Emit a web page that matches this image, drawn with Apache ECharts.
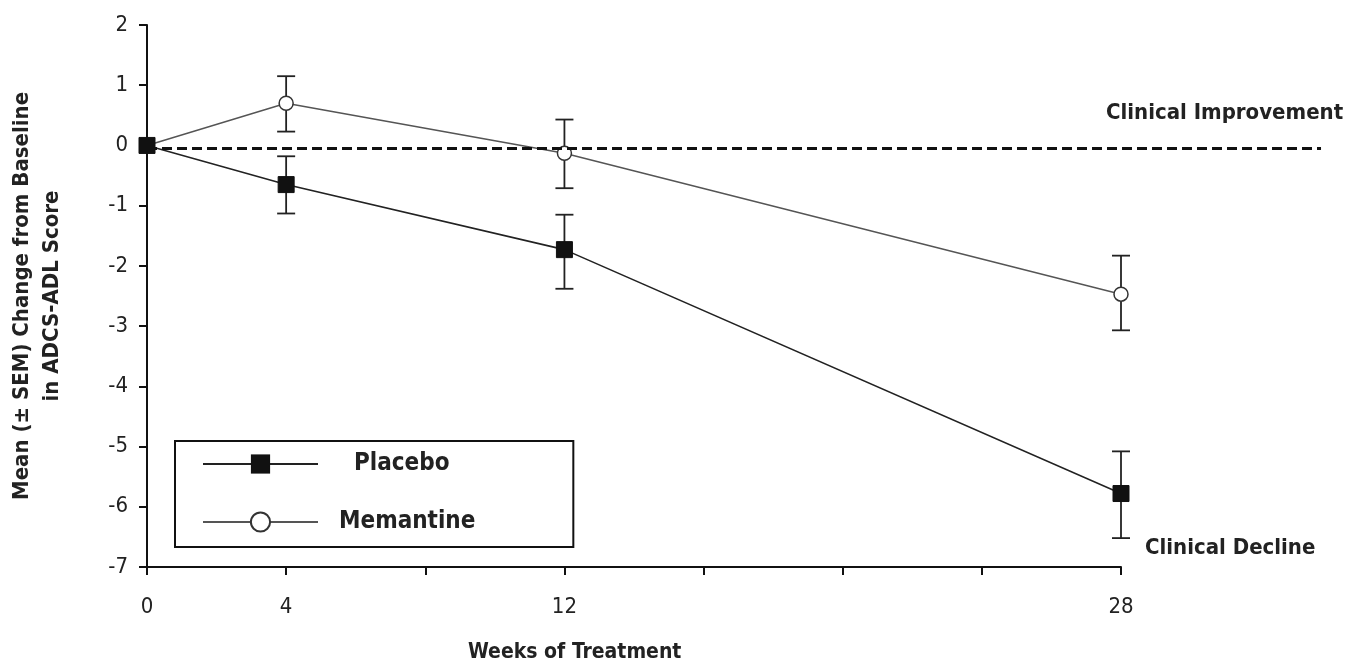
<!DOCTYPE html>
<html>
<head>
<meta charset="utf-8">
<script src="https://cdn.jsdelivr.net/npm/echarts@6/dist/echarts.min.js"></script>
<style>
html,body{margin:0;padding:0;background:#fff;}
#chart{width:1359px;height:669px;}
</style>
</head>
<body>
<div id="chart"></div>
<script>
// ---- data ----
var weeks = [0, 4, 12, 28];
var xTickLabels = [0, 4, 12, 28];
var placeboMean = [0, -0.65, -1.73, -5.78];
var placeboHigh = [0, -0.18, -1.15, -5.08];
var placeboLow  = [0, -1.13, -2.38, -6.52];
var memantineMean = [0, 0.70, -0.13, -2.47];
var memantineHigh = [0, 1.15, 0.43, -1.83];
var memantineLow  = [0, 0.23, -0.71, -3.07];
var refLineX = [0, 33.75];
var refLineY = -0.05;

var FONT = '"Liberation Sans Narrow","DejaVu Sans",sans-serif';
var INK = '#222';

function pairs(xs, ys){ return xs.map(function(x,i){ return [x, ys[i]]; }); }
function errData(hi, lo){
  var out = [];
  for (var i = 0; i < weeks.length; i++) {
    if (hi[i] !== lo[i]) out.push([weeks[i], hi[i], lo[i]]);
  }
  return out;
}
function errRender(params, api){
  var x = api.value(0);
  var top = api.coord([x, api.value(1)]);
  var bot = api.coord([x, api.value(2)]);
  var cap = 9;
  var st = {stroke: '#222', lineWidth: 1.8};
  return {type: 'group', children: [
    {type: 'line', shape: {x1: top[0], y1: top[1], x2: bot[0], y2: bot[1]}, style: st},
    {type: 'line', shape: {x1: top[0]-cap, y1: top[1], x2: top[0]+cap, y2: top[1]}, style: st},
    {type: 'line', shape: {x1: bot[0]-cap, y1: bot[1], x2: bot[0]+cap, y2: bot[1]}, style: st}
  ]};
}

var textGraphics = [
  {type: 'text', left: 468, top: 642, style: {text: 'Weeks of Treatment', fill: INK, font: 'bold condensed 21px ' + FONT}},
  {type: 'text', left: 1106, top: 102, style: {text: 'Clinical Improvement', fill: INK, font: 'bold condensed 22px ' + FONT}},
  {type: 'text', left: 1145, top: 537, style: {text: 'Clinical Decline', fill: INK, font: 'bold condensed 22px ' + FONT}}
];

var chart = echarts.init(document.getElementById('chart'));
chart.setOption({
  backgroundColor: '#fff',
  animation: false,
  grid: {left: 147, right: 238, top: 25, bottom: 102, containLabel: false, outerBoundsMode: 'none'},
  xAxis: {
    type: 'value', min: 0, max: 28, interval: 4,
    axisLine: {onZero: false, lineStyle: {color: '#111', width: 2}},
    axisTick: {show: true, length: 8, lineStyle: {color: '#111', width: 2}},
    splitLine: {show: false},
    axisLabel: {
      color: INK, fontFamily: FONT, fontWeight: 'normal condensed', fontSize: 22, margin: 29,
      formatter: function(v){ return xTickLabels.indexOf(v) >= 0 ? String(v) : ''; }
    }
  },
  yAxis: {
    type: 'value', min: -7, max: 2, interval: 1,
    name: 'Mean (± SEM) Change from Baseline\nin ADCS-ADL Score',
    nameLocation: 'middle', nameGap: 80,
    nameTextStyle: {color: INK, fontFamily: FONT, fontSize: 22, fontWeight: 'bold condensed', lineHeight: 30},
    axisLine: {onZero: false, lineStyle: {color: '#111', width: 2}},
    axisTick: {show: true, length: 8, lineStyle: {color: '#111', width: 2}},
    splitLine: {show: false},
    axisLabel: {color: INK, fontFamily: FONT, fontWeight: 'normal condensed', fontSize: 22, margin: 19}
  },
  legend: {
    data: ['Placebo', 'Memantine'],
    orient: 'vertical', left: 175, top: 441,
    itemWidth: 115, itemHeight: 24, itemGap: 34,
    padding: [11, 98, 13, 27],
    borderColor: '#111', borderWidth: 2,
    textStyle: {color: INK, fontFamily: FONT, fontSize: 24, fontWeight: 'bold condensed', padding: [0, 0, 0, 16]},
    formatter: function(n){ return n === 'Placebo' ? '  ' + n : n; }
  },
  graphic: textGraphics,
  series: [
    {
      name: 'Memantine', type: 'line', data: pairs(weeks, memantineMean),
      symbol: 'circle', symbolSize: 14, showAllSymbol: true,
      lineStyle: {color: '#555', width: 1.5},
      itemStyle: {color: '#fff', borderColor: '#333', borderWidth: 1.5},
      z: 3
    },
    {
      name: 'Placebo', type: 'line', data: pairs(weeks, placeboMean),
      symbol: 'rect', symbolSize: 16,
      lineStyle: {color: '#222', width: 1.6},
      itemStyle: {color: '#111', borderColor: '#111'},
      z: 3
    },
    {
      name: 'PlaceboErr', type: 'custom', renderItem: errRender,
      data: errData(placeboHigh, placeboLow), encode: {x: 0, y: [1, 2]}, z: 2
    },
    {
      name: 'MemantineErr', type: 'custom', renderItem: errRender,
      data: errData(memantineHigh, memantineLow), encode: {x: 0, y: [1, 2]}, z: 2
    }
  ]
});

// dashed "no change" reference line, extending past the axis end, positioned through the axis scales
var p0 = chart.convertToPixel({xAxisIndex: 0, yAxisIndex: 0}, [refLineX[0], refLineY]);
var p1 = chart.convertToPixel({xAxisIndex: 0, yAxisIndex: 0}, [refLineX[1], refLineY]);
chart.setOption({
  graphic: textGraphics.concat([
    {type: 'line', z: 10, silent: true,
     shape: {x1: p0[0], y1: p0[1], x2: p1[0], y2: p1[1]},
     style: {stroke: '#111', lineWidth: 3, lineDash: [10, 5]}}
  ])
}, {replaceMerge: ['graphic']});
</script>
</body>
</html>
